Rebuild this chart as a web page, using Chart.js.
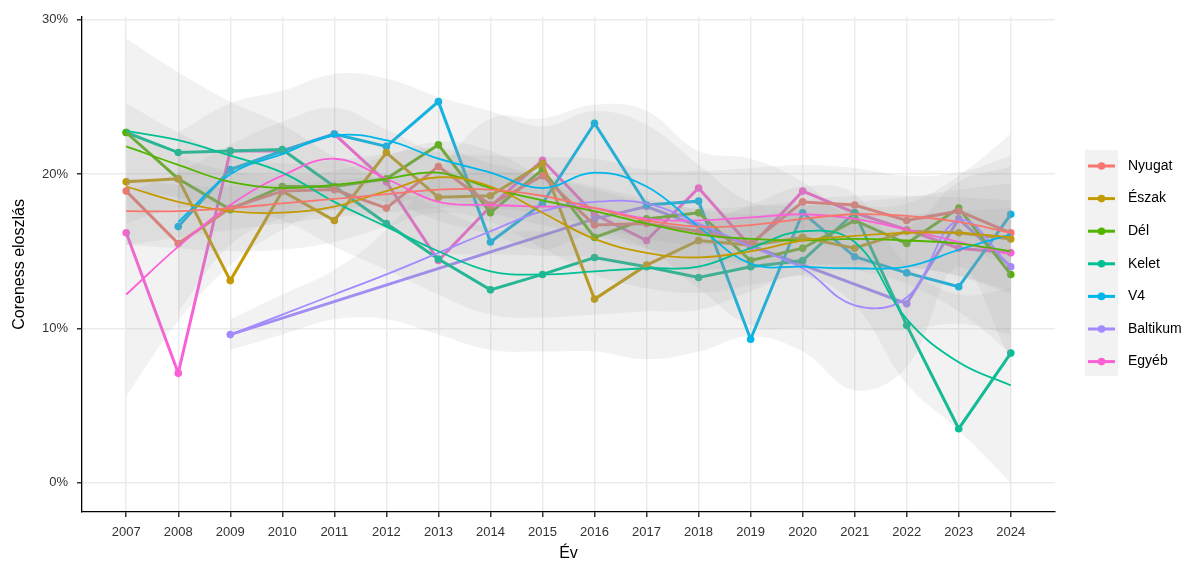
<!DOCTYPE html>
<html><head><meta charset="utf-8">
<script src="https://cdn.jsdelivr.net/npm/chart.js@4"></script>
<style>html,body{margin:0;padding:0;background:#fff}</style>
</head><body>
<canvas id="c" width="1198" height="563"></canvas>
<script>
const years = [2007,2008,2009,2010,2011,2012,2013,2014,2015,2016,2017,2018,2019,2020,2021,2022,2023,2024];
const yTicks = [0,10,20,30];
const seriesNames = ['Nyugat','Észak','Dél','Kelet','V4','Baltikum','Egyéb'];
const seriesColors = ['#F8766D','#C49A00','#53B400','#00C094','#00B6EB','#A58AFF','#FB61D7'];

// observed yearly values (%)
const nyugatValues   = [18.9,15.5,17.8,18.9,19.0,17.8,20.5,18.0,19.9,16.7,16.8,16.3,15.5,18.2,18.0,17.0,17.6,16.2];
const eszakValues    = [19.5,19.7,13.1,18.9,17.0,21.4,18.5,18.6,20.7,11.9,14.1,15.7,15.4,15.9,15.2,16.3,16.2,15.8];
const delValues      = [22.7,19.7,17.7,19.2,19.2,19.7,21.9,17.5,20.3,15.9,17.1,17.5,14.4,15.2,17.0,15.5,17.8,13.5];
const keletValues    = [22.7,21.4,21.5,21.6,19.2,16.8,14.5,12.5,13.5,14.6,14.0,13.3,14.0,14.4,17.5,10.2,3.5,8.4];
const v4Values       = [null,16.6,20.3,21.5,22.6,21.8,24.7,15.6,18.1,23.3,18.0,18.25,9.3,17.5,14.65,13.6,12.7,17.4];
const baltikumValues = [null,null,9.6,null,null,null,null,null,null,17.1,17.9,null,null,null,null,11.6,17.1,14.0];
const egyebValues    = [16.2,7.1,21.5,21.5,22.6,19.5,14.4,17.9,20.9,17.4,15.7,19.1,15.3,18.9,17.5,16.4,15.2,14.9];

// smoothed trend lines
const nyugatSmooth   = [17.6,17.6,17.8,18.1,18.4,18.7,19.0,19.0,18.6,17.8,17.0,16.6,16.7,17.1,17.4,17.3,16.9,16.2];
const eszakSmooth    = [19.2,18.2,17.6,17.5,17.9,18.9,19.8,19.2,17.5,15.8,14.9,14.6,15.0,15.7,16.0,16.2,16.2,15.9];
const delSmooth      = [21.8,20.6,19.5,19.1,19.3,19.7,20.1,19.1,18.3,17.6,16.8,16.1,15.8,15.7,15.8,15.7,15.5,15.0];
const keletSmooth    = [22.8,22.2,21.2,20.1,18.2,16.6,15.0,13.7,13.5,13.7,13.9,14.0,15.2,16.3,15.6,10.6,7.8,6.3];
const v4Smooth       = [null,16.9,20.0,21.3,22.5,22.2,21.0,20.1,19.1,20.1,19.2,16.6,14.2,14.0,13.9,14.0,15.1,16.1];
const baltikumSmooth = [null,null,9.6,10.9,12.2,13.5,14.9,16.3,17.6,18.2,18.1,16.8,15.3,13.9,11.5,12.0,17.0,14.0];
const egyebSmooth    = [12.2,15.3,18.0,19.9,21.0,19.7,18.2,18.0,17.9,17.8,17.1,17.0,17.2,17.4,17.1,16.4,15.6,14.8];

// confidence band upper / lower edges
const nyugatHi   = [19.8,19.3,19.2,19.4,19.6,19.9,20.2,20.2,19.8,19.0,18.2,17.8,17.9,18.3,18.6,18.6,18.5,18.3];
const nyugatLo   = [15.4,15.9,16.4,16.8,17.2,17.5,17.8,17.8,17.4,16.6,15.8,15.4,15.5,15.9,16.2,16.0,15.3,14.1];
const eszakHi    = [23.0,21.2,20.2,19.9,20.2,21.2,22.1,21.5,19.8,18.1,17.2,16.9,17.2,17.9,18.2,18.5,19.0,19.4];
const eszakLo    = [15.4,15.2,15.0,15.1,15.6,16.6,17.5,16.9,15.2,13.5,12.6,12.3,12.8,13.5,13.8,13.9,13.4,12.4];
const delHi      = [24.6,22.7,21.2,20.7,20.9,21.3,21.7,20.7,19.9,19.2,18.4,17.7,17.4,17.3,17.4,17.4,17.6,17.8];
const delLo      = [19.0,18.5,17.8,17.5,17.7,18.1,18.5,17.5,16.7,16.0,15.2,14.5,14.2,14.1,14.2,14.0,13.4,12.2];
const keletHi    = [28.8,26.6,24.7,23.2,21.1,19.4,17.8,16.5,16.3,16.5,16.7,16.8,18.0,19.2,18.7,14.1,12.2,12.6];
const keletLo    = [16.8,17.8,17.7,17.0,15.3,13.8,12.2,10.9,10.7,10.9,11.1,11.2,12.4,13.4,11.5,6.4,3.4,0.0];
const v4Hi       = [null,22.7,24.6,25.4,26.5,26.2,25.0,24.1,23.1,24.1,23.2,20.6,18.2,18.0,17.9,18.1,19.9,22.6];
const v4Lo       = [null,11.1,15.4,17.2,18.5,18.2,17.0,16.1,15.1,16.1,15.2,12.6,10.2,10.0,9.9,9.9,10.3,9.6];
const baltikumHi = [null,null,10.6,12.2,13.8,16.4,20.2,23.6,23.6,24.5,24.1,21.5,21.0,19.5,17.0,16.5,19.5,20.5];
const baltikumLo = [null,null,8.6,9.6,10.6,10.6,9.6,8.6,8.5,8.5,8.0,8.5,9.5,8.5,6.0,7.5,14.0,8.0];
const egyebHi    = [18.8,20.1,21.9,23.4,24.3,22.9,21.4,21.2,21.1,21.0,20.3,20.2,20.4,20.6,20.4,19.9,20.1,21.2];
const egyebLo    = [5.6,10.5,14.1,16.4,17.7,16.5,15.0,14.8,14.7,14.6,13.9,13.8,14.0,14.2,13.8,12.9,11.1,8.4];

const rawSeries    = [nyugatValues,eszakValues,delValues,keletValues,v4Values,baltikumValues,egyebValues];
const smoothSeries = [nyugatSmooth,eszakSmooth,delSmooth,keletSmooth,v4Smooth,baltikumSmooth,egyebSmooth];
const hiSeries     = [nyugatHi,eszakHi,delHi,keletHi,v4Hi,baltikumHi,egyebHi];
const loSeries     = [nyugatLo,eszakLo,delLo,keletLo,v4Lo,baltikumLo,egyebLo];

function pts(arr){ return years.map((yr,i)=>({x:yr,y:arr[i]})).filter(p=>p.y!==null); }

const FONT = '"Liberation Sans", Arial, Helvetica, sans-serif';
const datasets = [];
rawSeries.forEach((arr,i)=>{
  datasets.push({label:seriesNames[i], data:pts(arr), borderColor:seriesColors[i], backgroundColor:seriesColors[i],
    borderWidth:3, pointRadius:3.8, pointBorderWidth:0, pointBackgroundColor:seriesColors[i],
    tension:0, spanGaps:true, fill:false, order:3});
});
seriesNames.forEach((n,i)=>{
  datasets.push({label:n+' hi', data:pts(hiSeries[i]), borderWidth:0, borderColor:'rgba(0,0,0,0)', pointRadius:0,
    tension:0.4, fill:'+1', backgroundColor:'rgba(153,153,153,0.13)', order:2});
  datasets.push({label:n+' lo', data:pts(loSeries[i]), borderWidth:0, borderColor:'rgba(0,0,0,0)', pointRadius:0,
    tension:0.4, fill:false, order:2});
});
smoothSeries.forEach((arr,i)=>{
  datasets.push({label:seriesNames[i]+' trend', data:pts(arr), borderColor:seriesColors[i], borderWidth:1.8,
    pointRadius:0, tension:0.4, fill:false, order:1});
});

const legendPlugin = {
  id:'ggLegend',
  afterDraw(chart){
    const ctx = chart.ctx;
    ctx.save();
    ctx.fillStyle = '#f2f2f2';
    ctx.fillRect(1085,150,33,226);
    seriesNames.forEach((n,i)=>{
      const y = 166 + i*32.6;
      ctx.strokeStyle = seriesColors[i]; ctx.lineWidth = 3;
      ctx.beginPath(); ctx.moveTo(1088,y); ctx.lineTo(1115,y); ctx.stroke();
      ctx.fillStyle = seriesColors[i];
      ctx.beginPath(); ctx.arc(1101.5,y,3.8,0,Math.PI*2); ctx.fill();
      ctx.fillStyle = '#000'; ctx.font = '14px '+FONT; ctx.textBaseline='middle'; ctx.textAlign='left';
      ctx.fillText(n,1128,y);
    });
    ctx.restore();
  }
};

new Chart(document.getElementById('c'), {
  type:'line',
  data:{datasets},
  plugins:[legendPlugin],
  options:{
    responsive:false, animation:false, devicePixelRatio:1,
    layout:{padding:{left:0,right:143,top:15,bottom:0}},
    plugins:{legend:{display:false}, tooltip:{enabled:false}},
    scales:{
      x:{type:'linear', min:2006.15, max:2024.85,
        afterBuildTicks:s=>{s.ticks = years.map(v=>({value:v}));},
        afterFit:s=>{s.height = 51;},
        ticks:{callback:v=>String(v), font:{size:13,family:FONT}, color:'#333', padding:8, maxRotation:0, autoSkip:false},
        grid:{color:'#ebebeb', lineWidth:1.5, tickLength:5, tickColor:'#333'},
        border:{color:'#000', width:1.3},
        title:{display:true, text:'Év', font:{size:16,family:FONT}, color:'#000', padding:{top:0,bottom:0}}
      },
      y:{type:'linear', min:-1.9, max:30.2,
        afterBuildTicks:s=>{s.ticks = yTicks.map(v=>({value:v}));},
        afterFit:s=>{s.width = 82;},
        ticks:{callback:v=>v+'%', font:{size:13,family:FONT}, color:'#333', padding:9},
        grid:{color:'#ebebeb', lineWidth:1.5, tickLength:5, tickColor:'#333'},
        border:{color:'#000', width:1.3},
        title:{display:true, text:'Coreness eloszlás', font:{size:16,family:FONT}, color:'#000', padding:{top:10,bottom:4}}
      }
    }
  }
});
</script>
</body></html>
